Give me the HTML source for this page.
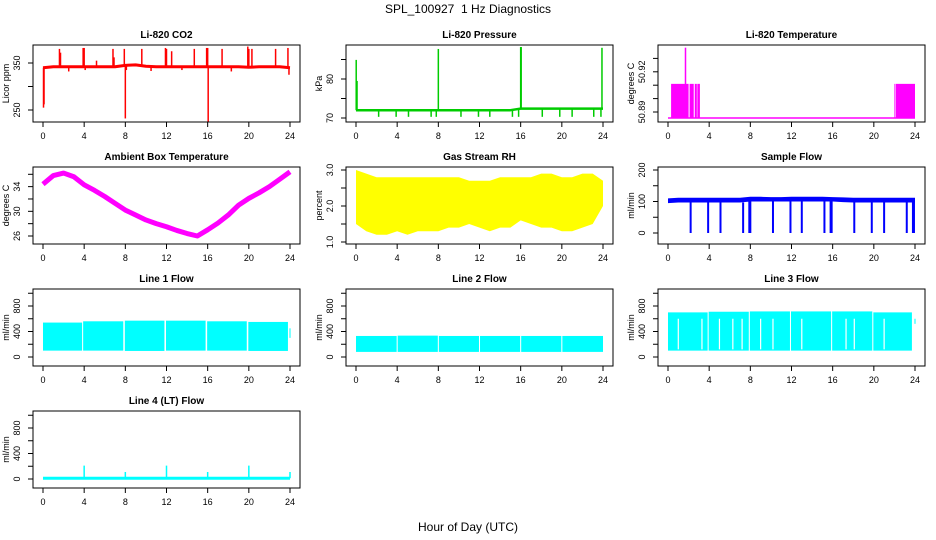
<!DOCTYPE html>
<html><head><meta charset="utf-8"><style>
html,body{margin:0;padding:0;background:#fff}
svg{display:block;font-family:"Liberation Sans",Arial,sans-serif}
</style></head><body>
<svg id="c" width="936" height="540" viewBox="0 0 936 540" xmlns="http://www.w3.org/2000/svg">
<text x="468" y="13" text-anchor="middle" font-size="12">SPL_100927&#160; 1 Hz Diagnostics</text>
<text x="468" y="531" text-anchor="middle" font-size="12">Hour of Day (UTC)</text>
</svg>
<script>
// ---- data ----
const hours = [0,1,2,3,4,5,6,7,8,9,10,11,12,13,14,15,16,17,18,19,20,21,22,23,24];
const xTicks = [0,4,8,12,16,20,24];
const co2Base = [340,342,342,342,342,342,342,342,345,346,343,342,342,342,342,342,342,342,342,342,341,342,342,342,340];
const co2SpikeHours = [0.05,0.1,1.6,1.7,3.9,4.0,4.1,6.8,6.9,7.9,8.0,8.1,9.6,11.9,12.0,12.5,14.7,15.9,16.0,16.05,17.4,19.9,20.0,20.3,22.6,23.8,23.9,2.5,5.2,10.5,13.5,18.3];
const co2SpikeVals = [255,262,380,372,382,382,335,380,362,380,232,335,380,382,380,375,380,382,382,222,380,385,380,380,380,382,325,332,355,333,335,332];
const presBase = [72,72,72,72,72,72,72,72,72,72,72,72,72,72,72,72,72.4,72.4,72.4,72.4,72.4,72.4,72.4,72.4,72.4];
const presSpikeHours = [0.02,0.1,8.0,16.0,16.05,23.9,2.2,3.9,5.1,7.3,7.8,10.2,11.9,13.0,15.2,15.8,18.1,19.8,21.0,23.1,23.8];
const presSpikeVals = [84.9,79.5,87.7,88.2,88.2,88.0,70.3,70.3,70.3,70.3,70.3,70.3,70.3,70.3,70.3,70.3,70.3,70.3,70.3,70.3,70.3];
const tempBaseVal = 50.8855;
const tempSegStart = [0.3,2.1,2.6,2.85,22.0,22.15];
const tempSegEnd = [2.0,2.5,2.8,3.1,22.05,24.0];
const tempSegVal = [50.911,50.911,50.911,50.911,50.911,50.911];
const tempSpikeHours = [1.7];
const tempSpikeVals = [50.938];
const ambTemp = [34.4,35.8,36.2,35.6,34.3,33.4,32.4,31.3,30.2,29.4,28.6,28.0,27.5,26.9,26.4,26.0,27.0,28.1,29.4,31.0,32.1,33.0,34.0,35.2,36.4];
const rhHigh = [3.0,2.9,2.8,2.8,2.8,2.8,2.8,2.8,2.8,2.8,2.8,2.7,2.7,2.7,2.8,2.8,2.8,2.8,2.9,2.9,2.8,2.8,2.9,2.9,2.7];
const rhLow = [1.5,1.3,1.2,1.2,1.3,1.2,1.3,1.3,1.3,1.4,1.4,1.5,1.4,1.3,1.4,1.4,1.6,1.5,1.4,1.4,1.3,1.3,1.4,1.5,2.0];
const sfHigh = [110,112,112,112,112,112,112,112,115,115,114,114,115,115,115,115,114,113,112,112,112,112,112,112,112];
const sfLow = [95,97,97,97,97,97,97,97,100,100,100,100,100,100,100,100,100,98,97,97,97,97,97,97,97];
const sfDropHours = [2.2,3.9,5.1,7.3,7.9,8.0,10.2,11.9,13.0,15.2,15.8,15.9,18.1,19.8,21.0,23.2,23.8,23.9];
const sfDropVals = [0,0,0,0,0,0,0,0,0,0,0,0,0,0,0,0,0,0];
const l1Start = [0,3.9,7.95,11.95,15.95,19.95,23.95];
const l1End = [3.8,7.8,11.8,15.8,19.8,23.8,24.05];
const l1High = [540,560,570,570,560,550,450];
const l1Low = [100,100,95,100,100,95,300];
const l2Start = [0,4.05,8.05,12.05,16.05,20.05];
const l2End = [3.95,7.95,11.95,15.95,19.95,24.0];
const l2High = [330,335,330,330,330,330];
const l2Low = [80,80,80,80,80,80];
const l3Start = [0,3.95,7.95,11.95,15.95,19.95,23.95];
const l3End = [3.85,7.85,11.85,15.85,19.85,23.7,24.05];
const l3High = [700,710,715,715,715,700,600];
const l3Low = [100,100,100,100,100,100,520];
const l3GapHours = [1.0,3.3,5.0,6.3,7.2,9.0,10.2,13.0,17.3,18.1,21.0];
const l4Base = 12;
const l4SpikeHours = [4.0,8.0,12.0,16.0,20.0,24.0];
const l4SpikeVals = [210,110,210,110,210,110];

// ---- layout ----
const NS = "http://www.w3.org/2000/svg";
const svg = document.getElementById('c');
const colL = [33,346,658], rowT = [45,167,289,411], BW = 267, BH = 77;
function mk(tag, attrs, parent){ const e=document.createElementNS(NS,tag); for(const k in attrs) e.setAttribute(k,attrs[k]); (parent||svg).appendChild(e); return e; }

function panel(col,row,title,ylab,y0val,y0off,pxPerUnit,ticks,labels,color,name){
  const L=colL[col], T=rowT[row];
  const g=mk('g',{});
  
  
  const xs=h=>L+10+h*247/24;
  const ys=v=>T+y0off-(v-y0val)*pxPerUnit;
  const clipId='clip'+col+row;
  const cp=mk('clipPath',{id:clipId},g); mk('rect',{x:L,y:T,width:BW,height:BH},cp);
  const plot=mk('g',{'clip-path':'url(#'+clipId+')'},g);
  
  
  const fr=mk('rect',{x:L,y:T,width:BW,height:BH,fill:'none',stroke:'#000','stroke-width':1},g);
  
  
  const t=mk('text',{x:L+BW/2,y:T-7,'text-anchor':'middle','font-size':10,'font-weight':'bold'},g); t.textContent=title;
  
  
  const xa=mk('g',{},g);
  
  
  xTicks.forEach(h=>{ const x=xs(h); mk('line',{x1:x,x2:x,y1:T+BH,y2:T+BH+5,stroke:'#000'},xa);
    const tx=mk('text',{x:x,y:T+BH+17,'text-anchor':'middle','font-size':9},xa); tx.textContent=h; });
  const ya=mk('g',{},g);
  
  
  ticks.forEach(v=>{ const y=ys(v); mk('line',{x1:L,x2:L-5,y1:y,y2:y,stroke:'#000'},ya); });
  labels.forEach(v=>{ const y=ys(v); const tx=mk('text',{x:L-13,y:y,'text-anchor':'middle','font-size':9,transform:`rotate(-90 ${L-13} ${y})`},ya); tx.textContent=v; });
  const yl=mk('text',{x:L-24,y:T+BH/2,'text-anchor':'middle','font-size':9,transform:`rotate(-90 ${L-24} ${T+BH/2})`},g); yl.textContent=ylab;
  
  
  return {xs,ys,plot,color};
}
function line(p,xsA,ysA,w){ mk('polyline',{points:xsA.map((h,i)=>p.xs(h)+','+p.ys(ysA[i])).join(' '),fill:'none',stroke:p.color,'stroke-width':w,'stroke-linejoin':'round'},p.plot); }
function spikes(p,hs,vs,base,w){ hs.forEach((h,i)=>{ const b=Array.isArray(base)?base[Math.min(24,Math.round(h))]:base; mk('line',{x1:p.xs(h),x2:p.xs(h),y1:p.ys(b),y2:p.ys(vs[i]),stroke:p.color,'stroke-width':w||1.5},p.plot); }); }
function band(p,hi,lo){ const pts=hours.map((h,i)=>p.xs(h)+','+p.ys(hi[i])).concat(hours.slice().reverse().map((h,j)=>p.xs(h)+','+p.ys(lo[24-j]))); mk('polygon',{points:pts.join(' '),fill:p.color},p.plot); }
function segs(p,s,e,hi,lo){ s.forEach((a,i)=>{ const lv=Array.isArray(lo)?lo[i]:lo; mk('rect',{x:p.xs(a),y:p.ys(hi[i]),width:Math.max(1,p.xs(e[i])-p.xs(a)),height:p.ys(lv)-p.ys(hi[i]),fill:p.color},p.plot); }); }

let p=panel(0,0,'Li-820 CO2','Licor ppm',350,18,0.47,[250,300,350],[250,350],'#ff0000','co2');
line(p,hours,co2Base,3); spikes(p,co2SpikeHours,co2SpikeVals,co2Base,1.5);
p=panel(1,0,'Li-820 Pressure','kPa',70,73,3.9,[70,75,80,85],[70,80],'#00cc00','pressure');
line(p,hours,presBase,2.5); spikes(p,presSpikeHours,presSpikeVals,presBase,1.5);
p=panel(2,0,'Li-820 Temperature','degrees C',50.89,67,1340,[50.89,50.90,50.91,50.92,50.93],['50.89','50.92'],'#ff00ff','li820-temp');
line(p,[0,24],[tempBaseVal,tempBaseVal],1.5); segs(p,tempSegStart,tempSegEnd,tempSegVal,tempBaseVal); spikes(p,tempSpikeHours,tempSpikeVals,tempBaseVal,1.5);
p=panel(0,1,'Ambient Box Temperature','degrees C',26,69,6.17,[26,28,30,32,34,36],[26,30,34],'#ff00ff','ambient-temp');
line(p,hours,ambTemp,5);
p=panel(1,1,'Gas Stream RH','percent',1.0,75,36,[1.0,1.5,2.0,2.5,3.0],['1.0','2.0','3.0'],'#ffff00','gas-rh');
band(p,rhHigh,rhLow);
p=panel(2,1,'Sample Flow','ml/min',0,66,0.315,[0,50,100,150,200],[0,100,200],'#0000ff','sample-flow');
band(p,sfHigh,sfLow); spikes(p,sfDropHours,sfDropVals,sfLow,2);
const ft=[0,200,400,600,800,1000], fl=[0,400,800];
p=panel(0,2,'Line 1 Flow','ml/min',0,68,51/800,ft,fl,'#00ffff','line1-flow');
segs(p,l1Start,l1End,l1High,l1Low);
p=panel(1,2,'Line 2 Flow','ml/min',0,68,51/800,ft,fl,'#00ffff','line2-flow');
segs(p,l2Start,l2End,l2High,l2Low);
p=panel(2,2,'Line 3 Flow','ml/min',0,68,51/800,ft,fl,'#00ffff','line3-flow');
segs(p,l3Start,l3End,l3High,l3Low);
l3GapHours.forEach(h=>{ mk('line',{x1:p.xs(h),x2:p.xs(h),y1:p.ys(600),y2:p.ys(120),stroke:'#fff','stroke-width':1.2},p.plot); });
p=panel(0,3,'Line 4 (LT) Flow','ml/min',0,68,51/800,ft,fl,'#00ffff','line4-flow');
line(p,[0,24],[l4Base,l4Base],3); spikes(p,l4SpikeHours,l4SpikeVals,l4Base,1.5);
</script>
</body></html>
